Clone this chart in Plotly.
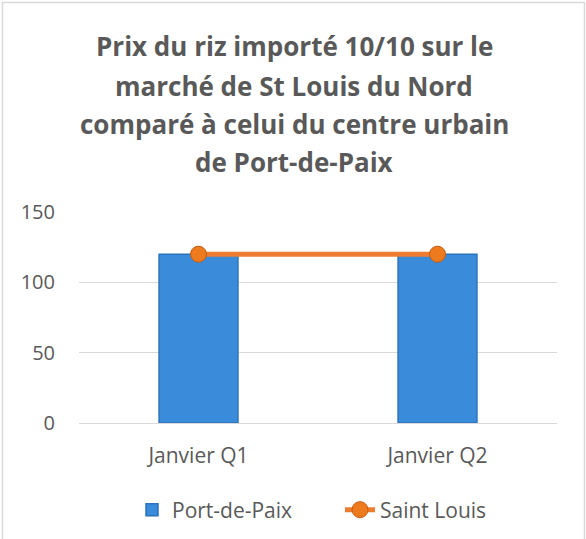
import plotly.graph_objects as go

categories = ["Janvier Q1", "Janvier Q2"]
port_de_paix = [120, 120]
saint_louis = [120, 120]
y_ticks = [0, 50, 100, 150]
title_lines = [
    "Prix du riz importé 10/10 sur le",
    "marché de St Louis du Nord",
    "comparé à celui du centre urbain",
    "de Port-de-Paix",
]

TXT = "#595959"
FONT = "Open Sans, Liberation Sans, sans-serif"

fig = go.Figure()
fig.add_trace(go.Bar(
    x=categories, y=port_de_paix, name="Port-de-Paix", width=0.33,
    marker=dict(color="#3A8CDA", line=dict(color="#2A72BC", width=1.5)),
))
fig.add_trace(go.Scatter(
    x=categories, y=saint_louis, name="Saint Louis", mode="lines+markers",
    line=dict(color="#ED7D31", width=5),
    marker=dict(size=16, color="#EE7A1E", line=dict(color="#C55A11", width=1)),
))

annotations = []
line_y_px = [46, 86, 124, 162]
for txt, ypx in zip(title_lines, line_y_px):
    annotations.append(dict(
        text="<b>" + txt + "</b>", x=(294 - 79) / 478, xref="paper",
        y=(423 - ypx) / 211, yref="paper", yanchor="middle", xanchor="center",
        showarrow=False, font=dict(family=FONT, size=26, color=TXT),
    ))

fig.update_layout(
    width=586, height=539, autosize=False,
    margin=dict(l=79, r=29, t=212, b=116, autoexpand=False),
    paper_bgcolor="white", plot_bgcolor="white",
    font=dict(family=FONT, color=TXT, size=21),
    annotations=annotations,
    showlegend=True,
    legend=dict(orientation="h", x=(132 - 79) / 478, xanchor="left", y=(423 - 510) / 211,
                yanchor="middle", font=dict(size=21, color=TXT), traceorder="normal",
                entrywidth=163, entrywidthmode="pixels"),
    xaxis=dict(showgrid=False, showline=False, zeroline=False, ticks="", automargin=False,
               tickfont=dict(size=21, color=TXT), ticklabelstandoff=18),
    yaxis=dict(range=[0, 150], tickvals=y_ticks, showgrid=True, gridcolor="#D9D9D9",
               gridwidth=1, zeroline=True, zerolinecolor="#D9D9D9", zerolinewidth=1,
               showline=False, ticks="", tickfont=dict(size=20, color=TXT),
               ticklabelstandoff=23, automargin=False),
    shapes=[dict(type="rect", xref="paper", yref="paper",
                 x0=(2.5 - 79) / 478, x1=(584.5 - 79) / 478,
                 y0=(423 - 560) / 211, y1=(423 - 2.5) / 211,
                 line=dict(color="#D9D9D9", width=1.5), fillcolor="rgba(0,0,0,0)",
                 layer="below")],
)

fig.write_html("out.html", config={"displayModeBar": False},
               post_script="document.body.style.margin='0';")
